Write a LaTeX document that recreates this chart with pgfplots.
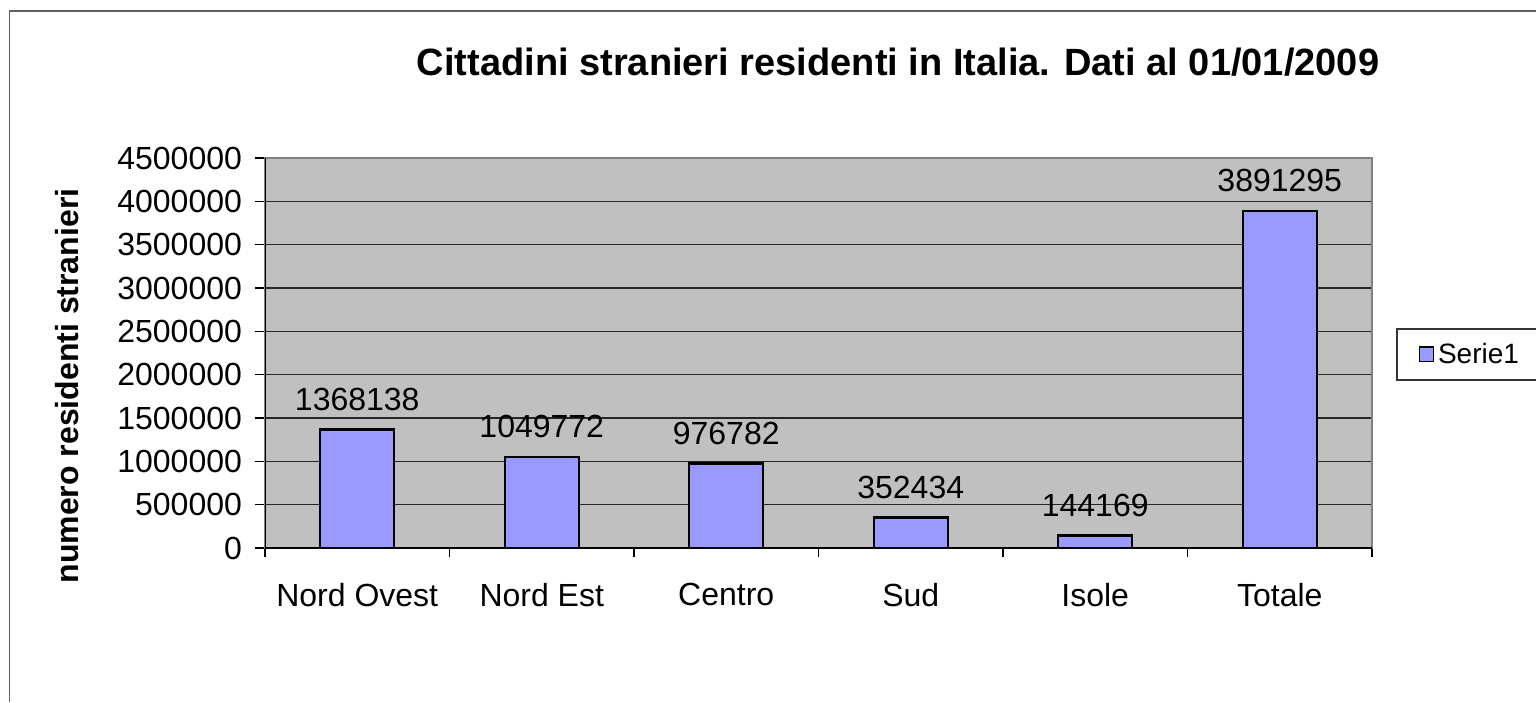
\documentclass[border=0pt]{standalone}
\usepackage{pgfplots}
\pgfplotsset{compat=1.18}
\usepackage{fontspec}
\setmainfont{Liberation Sans}
\definecolor{plotgray}{HTML}{C0C0C0}
\definecolor{barblue}{HTML}{9999FF}
\definecolor{framegray}{HTML}{606060}
\begin{document}
\begin{tikzpicture}[x=1pt,y=1pt]
\path[use as bounding box] (0,0) rectangle (768,351);
\fill[white] (0,0) rectangle (768,351);
\draw[framegray, line width=0.8pt] (4.8,0) -- (4.8,345.6) -- (768,345.6);
\begin{axis}[
 at={(132.5pt,77pt)}, anchor=south west,
 scale only axis, width=553.5pt, height=195pt,
 xmin=-0.5, xmax=5.5, ymin=0, ymax=4500000,
 axis background/.style={fill=plotgray},
 axis line style={draw=gray, line width=0.8pt},
 ybar, bar width=37pt,
 xtick={0,...,5},
 xticklabels={Nord Ovest,Nord Est,Centro,Sud,Isole,Totale},
 major x tick style={draw=none},
 minor xtick={-0.5,0.5,1.5,2.5,3.5,4.5,5.5},
 minor x tick style={black, line width=0.8pt},
 minor tick length=4.5pt,
 xtick pos=bottom, ytick pos=left,
 tick align=outside,
 ytick={0,500000,...,4500000},
 major tick length=5pt,
 y tick style={black, line width=0.8pt},
 ymajorgrids,
 grid style={black!85, line width=0.7pt},
 scaled y ticks=false,
 /pgf/number format/.cd, fixed, 1000 sep={}, assume math mode=true,
 /pgfplots/.cd,
 tick label style={font=\fontsize{16}{18}\selectfont},
 yticklabel style={xshift=-3pt},
 xticklabel style={yshift=-9pt},
 nodes near coords,
 point meta=explicit symbolic,
 nodes near coords style={font=\fontsize{16}{18}\selectfont, yshift=5.5pt},
 legend style={at={(1.0217,0.564)}, anchor=north west,
   draw=black!80, line width=0.8pt, font=\fontsize{14}{16}\selectfont,
   inner xsep=11pt, inner ysep=5pt, fill=white},
 legend image code/.code={\draw[#1, draw=black, line width=0.6pt] (0pt,-3.7pt) rectangle (7pt,3.7pt);},
]
\addplot[fill=barblue, draw=black, line width=1.2pt] coordinates {
 (0,1368138) [1368138]
 (1,1049772) [1049772]
 (2,976782) [976782]
 (3,352434) [352434]
 (4,144169) [144169]
 (5,3891295) [3891295]
};
\addlegendentry{Serie1}
\draw[black, line width=1.2pt] (rel axis cs:0,1) -- (rel axis cs:0,0) -- (rel axis cs:1,0);
\end{axis}
\node[font=\bfseries\fontsize{19}{22}\selectfont] at (449,320) {Cittadini stranieri residenti in Italia. Dati al 01/01/2009};
\node[font=\bfseries\fontsize{16}{18}\selectfont, rotate=90] at (33.5,158) {numero residenti stranieri};
\end{tikzpicture}
\end{document}
